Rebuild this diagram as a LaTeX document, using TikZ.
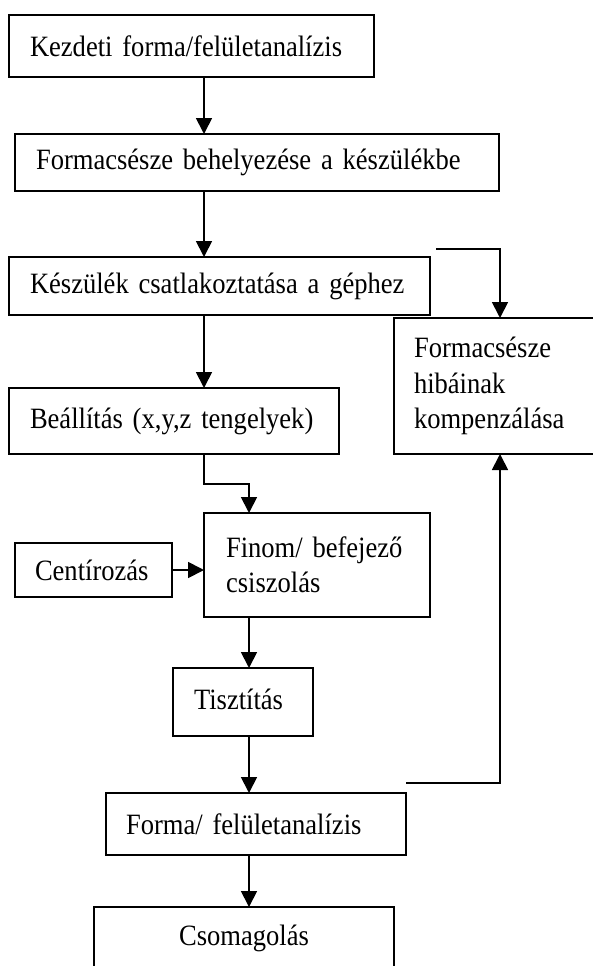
\documentclass[tikz,border=0pt]{standalone}
\usepackage{fontspec}
\setmainfont{Liberation Serif}[FakeStretch=0.9]
\usetikzlibrary{arrows.meta}
\hyphenpenalty=10000
\exhyphenpenalty=10000
\newcommand\diagfont{\fontsize{29.5}{35.5}\selectfont\spaceskip=0.2em plus 0.1em minus 0.05em\relax}
\tikzset{
  box/.style={draw, line width=1.8pt, outer sep=0pt, inner xsep=21pt, inner ysep=0pt,
    align=left, anchor=north west, font=\diagfont},
  arr/.style={line width=1.8pt, -{Triangle[length=16pt,width=16pt]}}
}
\begin{document}
\begin{tikzpicture}[x=1pt,y=-1pt]
\useasboundingbox (0,0) rectangle (592,966);
\coordinate (c1) at (204,0);
\coordinate (c2) at (249,0);
\node[box, text width=323pt, minimum width=365pt, minimum height=62pt] (b1) at (9,15) {Kezdeti forma/felületanalízis};
\node[box, text width=442pt, minimum width=484pt, minimum height=57pt] (b2) at (15,134) {Formacsésze behelyezése a készülékbe};
\node[box, text width=379pt, minimum width=421pt, minimum height=58pt] (b3) at (9,257) {Készülék csatlakoztatása a géphez};
\node[box, inner xsep=20pt, text width=172pt, minimum width=212pt, minimum height=136pt] (b4) at (394,318) {Formacsésze\\hibáinak\\kompenzálása};
\node[box, text width=288pt, minimum width=330pt, minimum height=66pt] (b5) at (9,388) {Beállítás (x,y,z tengelyek)};
\node[box, inner xsep=22pt, text width=182pt, minimum width=226pt, minimum height=104pt] (b6) at (204,513) {Finom/ befejező\\csiszolás};
\node[box, inner xsep=20pt, text width=117pt, minimum width=157pt, minimum height=54pt] (b7) at (15,543) {Centírozás};
\node[box, inner xsep=21pt, text width=98pt, minimum width=140pt, minimum height=68pt] (b8) at (173,668) {\raisebox{5pt}{Tisztítás}};
\node[box, inner xsep=20pt, text width=260pt, minimum width=300pt, minimum height=62pt] (b9) at (106,793) {Forma/ felületanalízis};
\node[box, align=center, text width=258pt, minimum width=300pt, minimum height=62pt] (b10) at (94,907) {\raisebox{5pt}{Csomagolás}};
\draw[arr] (b1.south -| c1) -- (b2.north -| c1);
\draw[arr] (b2.south -| c1) -- (b3.north -| c1);
\draw[arr] (b3.south -| c1) -- (b5.north -| c1);
\draw[arr] ([shift={(6pt,8pt)}]b3.north east) -| (b4.north);
\draw[arr] (b5.south -| c1) -- ++(0,30) -| (b6.north -| c2);
\draw[arr] (b7.east) -- (b7.east -| b6.west);
\draw[arr] (b6.south -| c2) -- (b8.north -| c2);
\draw[arr] (b8.south -| c2) -- (b9.north -| c2);
\draw[arr] ([yshift=10pt]b9.north east) -| (b4.south);
\draw[arr] (b9.south -| c2) -- (b10.north -| c2);
\end{tikzpicture}
\end{document}
